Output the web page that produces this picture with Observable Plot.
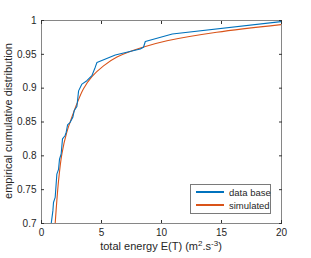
<!DOCTYPE html>
<html><head><meta charset="utf-8">
<script src="https://cdn.jsdelivr.net/npm/d3@7"></script>
<script src="https://cdn.jsdelivr.net/npm/@observablehq/plot@0.6"></script>
<style>
body{margin:0;background:#fff;}
#wrap{position:relative;width:311px;height:258px;font-family:"Liberation Sans",Arial,sans-serif;}
#legend{position:absolute;left:190px;top:184px;width:79px;height:28px;border:1px solid #7a7a7a;background:#fff;font-size:9.5px;color:#262626;white-space:nowrap;}
.row{position:absolute;left:5px;height:12px;display:flex;align-items:center;white-space:nowrap;}
.sw{width:28px;height:1.3px;margin-right:5px;flex:none;}
</style></head><body>
<div id="wrap"></div>
<script>
const dbX = [0.81,0.95,1.0,1.14,1.28,1.42,1.50,1.64,1.75,1.97,2.06,2.17,2.39,2.61,2.73,2.95,3.09,3.37,3.78,4.2,4.48,4.62,6.15,8.23,8.5,8.65,10.9,20];
const dbY = [0.7,0.719,0.731,0.7385,0.773,0.780,0.795,0.803,0.825,0.830,0.835,0.8456,0.8495,0.857,0.867,0.873,0.896,0.906,0.911,0.9186,0.931,0.938,0.949,0.958,0.9605,0.969,0.980,0.9985];
const simX = [1.14,1.42,1.70,2.11,2.53,2.95,3.5,4.2,5.17,6.29,8.37,10.46,14.6,20];
const simY = [0.7,0.763,0.803,0.835,0.857,0.877,0.899,0.917,0.933,0.946,0.960,0.970,0.9826,0.994];
const xTicks = [0,5,10,15,20];
const yTicks = [0.7,0.75,0.8,0.85,0.9,0.95,1];
const seriesNames = ["data base","simulated"];
const colors = ["#0072BD","#D95319"];

const db = dbX.map((x,i)=>({x, y: dbY[i]}));
const sim = simX.map((x,i)=>({x, y: simY[i]}));
const grey = "#868686", txt = "#262626";

const chart = Plot.plot({
  width: 311, height: 258,
  marginLeft: 41, marginRight: 30, marginTop: 20, marginBottom: 35,
  style: {fontFamily: '"Liberation Sans",Arial,sans-serif', fontSize: "10px", color: txt, background: "#fff"},
  x: {domain: [0,20]},
  y: {domain: [0.7,1]},
  marks: [
    Plot.line(sim, {x:"x", y:"y", stroke: colors[1], strokeWidth: 1.1, curve: "catmull-rom", clip: true}),
    Plot.line(db, {x:"x", y:"y", stroke: colors[0], strokeWidth: 1.1, clip: true}),
    Plot.frame({stroke: grey, strokeWidth: 1}),
    Plot.axisX({ticks: xTicks, tickSize: 0, tickPadding: 5, label: null, fill: txt}),
    Plot.axisX({ticks: xTicks, anchor: "bottom", tickSize: -3, tickFormat: () => "", label: null, stroke: "#333"}),
    Plot.axisX({ticks: xTicks, anchor: "top", tickSize: -3, tickFormat: () => "", label: null, stroke: "#333"}),
    Plot.axisY({ticks: yTicks, tickSize: 0, tickPadding: 5, label: null, fill: txt, tickFormat: d => d3.format("")(+d.toFixed(2))}),
    Plot.axisY({ticks: yTicks, anchor: "left", tickSize: -3, tickFormat: () => "", label: null, stroke: "#333"}),
    Plot.axisY({ticks: yTicks, anchor: "right", tickSize: -3, tickFormat: () => "", label: null, stroke: "#333"})
  ]
});
const wrap = document.getElementById("wrap");
wrap.appendChild(chart);
const svg = d3.select(chart);
const xl = svg.append("text").attr("x", 161).attr("y", 250).attr("text-anchor","middle")
  .attr("fill", txt).style("font-size","11px");
xl.append("tspan").text("total energy E(T) (m");
xl.append("tspan").attr("dy",-4).style("font-size","8px").text("2");
xl.append("tspan").attr("dy",4).text(".s");
xl.append("tspan").attr("dy",-4).style("font-size","8px").text("-3");
xl.append("tspan").attr("dy",4).text(")");
svg.append("text").attr("transform","translate(12,121) rotate(-90)").attr("text-anchor","middle")
  .attr("fill", txt).style("font-size","11px").text("empirical cumulative distribution");

const lg = document.createElement("div"); lg.id = "legend";
seriesNames.forEach((n,i)=>{
  const r = document.createElement("div"); r.className="row"; r.style.top = (1+i*13)+"px";
  const s = document.createElement("div"); s.className="sw"; s.style.background = colors[i];
  const t = document.createElement("span"); t.textContent = n;
  r.appendChild(s); r.appendChild(t); lg.appendChild(r);
});
wrap.appendChild(lg);
</script>
</body></html>
